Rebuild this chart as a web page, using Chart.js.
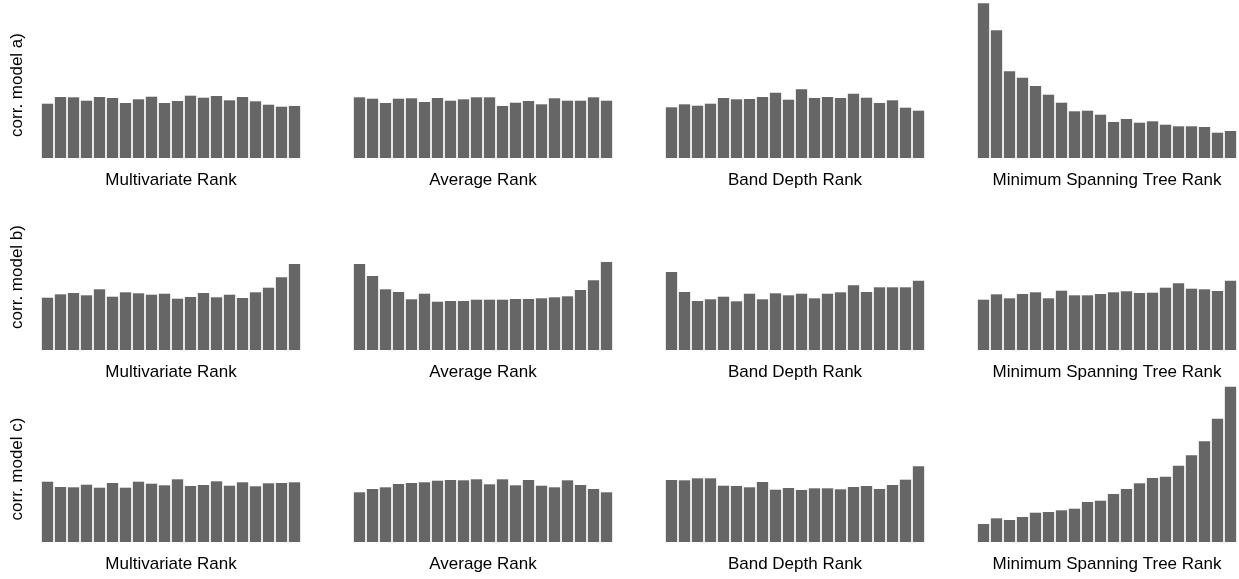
<!DOCTYPE html>
<html>
<head>
<meta charset="utf-8">
<script src="https://cdn.jsdelivr.net/npm/chart.js@4.4.1/dist/chart.umd.min.js"></script>
<style>
  body { margin: 0; background: #fff; width: 1239px; height: 579px; overflow: hidden; position: relative; }
  .panel { position: absolute; }
</style>
</head>
<body>
<script>
// rank bins of the histograms
const rankBins = ['1', '2', '3', '4', '5', '6', '7', '8', '9', '10',
                  '11', '12', '13', '14', '15', '16', '17', '18', '19', '20'];
const methods = ['Multivariate Rank', 'Average Rank', 'Band Depth Rank', 'Minimum Spanning Tree Rank'];
const models = ['corr. model a)', 'corr. model b)', 'corr. model c)'];

// corr. model a)
const modelA_multivariate = [54.3, 61.0, 60.7, 57.3, 61.0, 60.0, 55.0, 58.7, 61.3, 55.0, 57.0, 62.3, 60.3, 62.0, 57.7, 61.0, 56.7, 53.3, 51.3, 52.0];
const modelA_average = [60.7, 59.3, 55.0, 59.3, 59.7, 56.0, 60.0, 57.3, 58.7, 60.7, 60.7, 52.0, 55.3, 57.0, 53.7, 59.7, 57.3, 57.3, 60.7, 57.3];
const modelA_bandDepth = [50.7, 53.7, 52.3, 54.3, 60.0, 58.7, 59.0, 61.0, 65.3, 58.3, 68.7, 60.0, 61.0, 60.0, 64.3, 60.3, 55.0, 57.7, 50.3, 47.3];
const modelA_mst = [154.7, 127.7, 86.7, 80.3, 72.0, 63.3, 55.3, 46.7, 47.3, 43.3, 36.0, 39.0, 35.3, 36.7, 33.3, 31.7, 31.7, 31.0, 25.3, 27.0];

// corr. model b)
const modelB_multivariate = [52.3, 55.7, 57.0, 54.7, 60.7, 53.3, 57.7, 56.7, 55.3, 56.3, 51.3, 53.0, 57.0, 52.7, 55.3, 52.0, 57.7, 62.3, 72.7, 86.0];
const modelB_average = [86.0, 74.0, 60.7, 58.0, 50.7, 56.3, 48.3, 49.0, 49.0, 50.3, 50.3, 50.3, 51.0, 51.0, 51.7, 52.7, 53.7, 60.0, 69.7, 88.0];
const modelB_bandDepth = [78.0, 58.0, 49.0, 50.7, 53.3, 48.7, 56.3, 50.7, 56.7, 54.7, 56.3, 51.7, 56.3, 57.7, 64.7, 58.0, 62.7, 62.7, 62.7, 69.3];
const modelB_mst = [50.3, 55.7, 51.7, 56.0, 57.7, 51.7, 59.3, 54.7, 54.7, 56.0, 57.7, 58.7, 57.0, 57.3, 62.3, 66.7, 61.3, 60.7, 59.0, 69.3];

// corr. model c)
const modelC_multivariate = [60.3, 55.0, 54.7, 57.3, 54.3, 59.0, 54.3, 60.3, 58.3, 56.7, 62.7, 56.0, 57.0, 60.7, 56.3, 59.7, 55.7, 58.7, 59.0, 59.7];
const modelC_average = [49.7, 53.0, 54.7, 58.0, 59.0, 59.7, 61.3, 62.0, 61.7, 62.7, 57.7, 62.7, 56.7, 62.0, 56.3, 54.7, 61.7, 57.0, 53.0, 49.7];
const modelC_bandDepth = [62.0, 61.7, 63.7, 63.7, 56.3, 56.0, 54.7, 60.0, 52.3, 54.0, 52.0, 53.7, 53.7, 52.7, 55.0, 56.0, 53.0, 57.0, 62.3, 75.7];
const modelC_mst = [18.0, 23.7, 22.0, 25.0, 29.3, 30.0, 31.7, 33.3, 40.0, 41.3, 48.0, 53.0, 58.7, 64.0, 65.3, 76.3, 86.7, 100.7, 123.3, 155.3];

const histograms = [
  [modelA_multivariate, modelA_average, modelA_bandDepth, modelA_mst],
  [modelB_multivariate, modelB_average, modelB_bandDepth, modelB_mst],
  [modelC_multivariate, modelC_average, modelC_bandDepth, modelC_mst],
];

// layout of the 3x4 grid
const rowTop = [2, 194, 386];
const colLeft = [0, 353, 665, 977];
const plotWidth = 260;
const plotHeight = 166;
const yAxisWidth = 41;
const xAxisHeight = 26;
const labelFont = { family: '"Liberation Sans", Arial, Helvetica, sans-serif', size: 17 };

histograms.forEach((row, r) => {
  row.forEach((values, c) => {
    const showY = c === 0;
    const w = plotWidth + (showY ? yAxisWidth : 0);
    const h = plotHeight + xAxisHeight;
    const canvas = document.createElement('canvas');
    canvas.className = 'panel';
    canvas.width = w;
    canvas.height = h;
    canvas.style.width = w + 'px';
    canvas.style.height = h + 'px';
    canvas.style.left = colLeft[c] + 'px';
    canvas.style.top = rowTop[r] + 'px';
    document.body.appendChild(canvas);

    new Chart(canvas, {
      type: 'bar',
      data: {
        labels: rankBins,
        datasets: [{
          data: values,
          backgroundColor: '#666666',
          borderWidth: 0,
          categoryPercentage: 0.87,
          barPercentage: 1.0,
        }],
      },
      options: {
        responsive: false,
        animation: false,
        layout: { padding: 0 },
        plugins: {
          legend: { display: false },
          tooltip: { enabled: false },
        },
        scales: {
          x: {
            display: true,
            ticks: { display: false },
            grid: { display: false },
            border: { display: false },
            title: {
              display: true,
              text: methods[c],
              color: '#000',
              font: labelFont,
              padding: { top: 0, bottom: 3 },
            },
            afterFit: (scale) => { scale.height = xAxisHeight; },
          },
          y: {
            display: showY,
            min: -10,
            max: 156,
            ticks: { display: false },
            grid: { display: false },
            border: { display: false },
            title: {
              display: showY,
              text: models[r],
              color: '#000',
              font: labelFont,
              padding: { top: 7, bottom: 0 },
            },
            afterFit: (scale) => { scale.width = showY ? yAxisWidth : 0; },
          },
        },
      },
    });
  });
});
</script>
</body>
</html>
